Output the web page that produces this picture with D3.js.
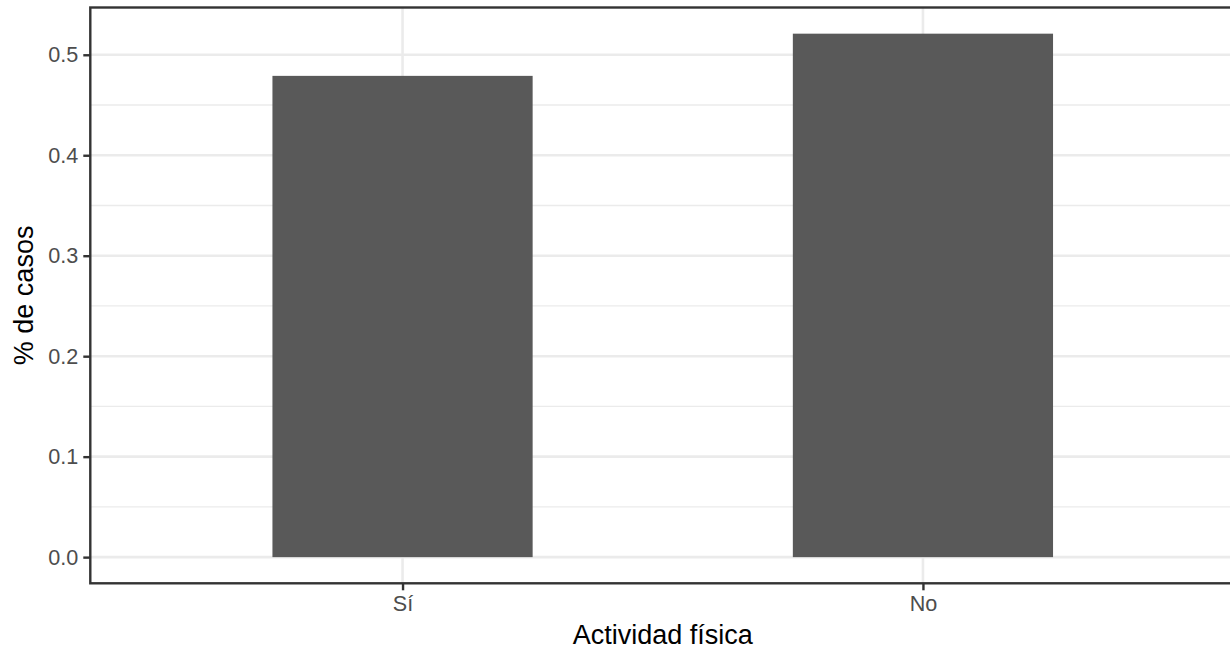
<!DOCTYPE html>
<html>
<head>
<meta charset="utf-8">
<script src="https://cdn.jsdelivr.net/npm/d3@7"></script>
<style>
  html, body { margin: 0; padding: 0; background: #fff; overflow: hidden; }
  svg { display: block; font-family: "Liberation Sans", Arial, sans-serif; }
</style>
</head>
<body>
<svg id="chart" width="1230" height="650"></svg>
<script>
const categories = ["Sí", "No"];
const values = [0.479, 0.521];
const yTicks = [0.0, 0.1, 0.2, 0.3, 0.4, 0.5];
const yMinor = [0.05, 0.15, 0.25, 0.35, 0.45];
const xTitle = "Actividad física";
const yTitle = "% de casos";

const svg = d3.select("#chart");
const W = 1230, H = 650;
svg.append("rect").attr("width", W).attr("height", H).attr("fill", "#fff");

const panel = { left: 90.3, top: 7.5, bottom: 583.3 };
const step = 520.4;
panel.right = panel.left + 2.2 * step;

const ymax = d3.max(values);
const y = d3.scaleLinear()
  .domain([-0.05 * ymax, ymax * 1.05])
  .range([panel.bottom, panel.top]);

const x = d3.scaleLinear()
  .domain([0.4, categories.length + 0.6])
  .range([panel.left, panel.right]);
const xPos = c => x(categories.indexOf(c) + 1);
const barW = 0.5 * (x(2) - x(1));

const grid = "#EBEBEB";
// minor gridlines
svg.append("g").selectAll("line").data(yMinor).join("line")
  .attr("x1", panel.left).attr("x2", panel.right)
  .attr("y1", d => y(d)).attr("y2", d => y(d))
  .attr("stroke", grid).attr("stroke-width", 1.3);
// major gridlines
svg.append("g").selectAll("line").data(yTicks).join("line")
  .attr("x1", panel.left).attr("x2", panel.right)
  .attr("y1", d => y(d)).attr("y2", d => y(d))
  .attr("stroke", grid).attr("stroke-width", 2.6);
svg.append("g").selectAll("line").data(categories).join("line")
  .attr("x1", d => xPos(d)).attr("x2", d => xPos(d))
  .attr("y1", panel.top).attr("y2", panel.bottom)
  .attr("stroke", grid).attr("stroke-width", 2.6);

// bars
svg.append("g").selectAll("rect").data(categories).join("rect")
  .attr("x", d => xPos(d) - barW / 2)
  .attr("width", barW)
  .attr("y", (d, i) => y(values[i]))
  .attr("height", (d, i) => y(0) - y(values[i]))
  .attr("fill", "#595959");

// panel border
svg.append("rect")
  .attr("x", panel.left).attr("y", panel.top)
  .attr("width", panel.right - panel.left).attr("height", panel.bottom - panel.top)
  .attr("fill", "none").attr("stroke", "#333333").attr("stroke-width", 2.4);

// y axis
const yAxis = d3.axisLeft(y).tickValues(yTicks).tickFormat(d3.format(".1f"))
  .tickSize(7).tickPadding(5);
const gy = svg.append("g").attr("transform", `translate(${panel.left},0)`).call(yAxis);
gy.select(".domain").remove();
gy.selectAll(".tick line").attr("stroke", "#333333").attr("stroke-width", 2.4);
gy.selectAll(".tick text").attr("fill", "#4D4D4D").style("font-size", "21.6px")
  .attr("font-family", null);

// x axis
const xAxis = d3.axisBottom(x).tickValues(categories.map((c, i) => i + 1))
  .tickFormat(d => categories[d - 1]).tickSize(7).tickPadding(5);
const gx = svg.append("g").attr("transform", `translate(0,${panel.bottom})`).call(xAxis);
gx.select(".domain").remove();
gx.selectAll(".tick line").attr("stroke", "#333333").attr("stroke-width", 2.4);
gx.selectAll(".tick text").attr("fill", "#4D4D4D").style("font-size", "21.6px")
  .attr("font-family", null);

// titles
svg.append("text")
  .attr("x", (panel.left + panel.right) / 2).attr("y", 644)
  .attr("text-anchor", "middle").attr("fill", "#000").style("font-size", "27px")
  .text(xTitle);
svg.append("text")
  .attr("transform", `translate(33,${(panel.top + panel.bottom) / 2}) rotate(-90)`)
  .attr("text-anchor", "middle").attr("fill", "#000").style("font-size", "27px")
  .text(yTitle);
</script>
</body>
</html>
